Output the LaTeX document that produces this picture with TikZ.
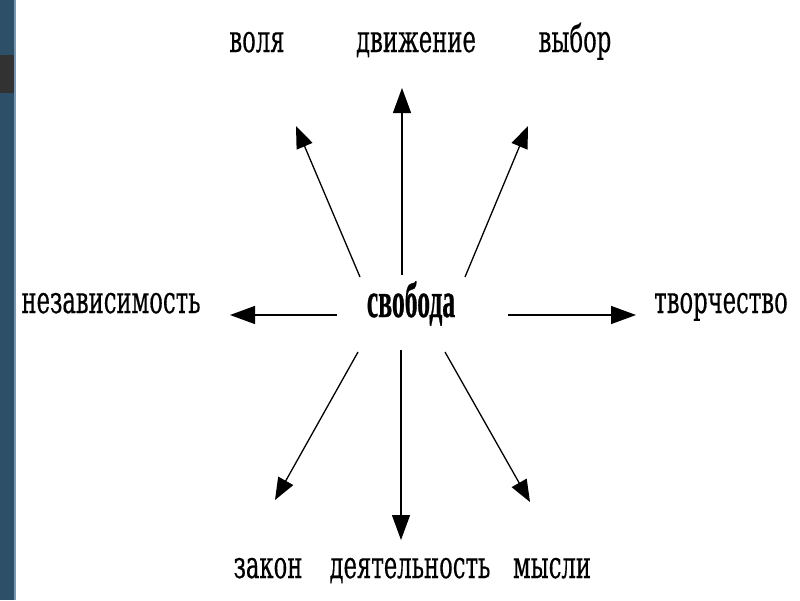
\documentclass[tikz,border=0pt]{standalone}
\usepackage{fontspec}
\usetikzlibrary{arrows.meta}
\newfontfamily\labfont[FakeBold=0.5]{DejaVu Serif}
\newfontfamily\keyfont[FakeBold=0.8]{Liberation Serif}
\definecolor{stripblue}{RGB}{45,80,104}
\definecolor{stripline}{RGB}{120,150,175}
\definecolor{stripgray}{RGB}{50,50,50}
\newcommand{\lbl}[1]{\scalebox{1.08}[1.8]{\labfont\fontsize{21}{23}\selectfont #1}}
\newcommand{\keylbl}[1]{\scalebox{0.95}[1.85]{\keyfont\bfseries\fontsize{27}{28}\selectfont #1}}
\begin{document}
\begin{tikzpicture}[x=1pt,y=-1pt,
  word/.style={inner sep=0pt,anchor=base},
  ray/.style={line width=1.3pt,-{Triangle[length=25pt,width=18pt]}},
  dray/.style={line width=1.3pt,-{Triangle[length=22pt,width=17pt]}}]
\useasboundingbox (0,0) rectangle (800,600);
\fill[white] (0,0) rectangle (800,600);
\fill[stripblue] (0,0) rectangle (14,600);
\fill[stripline] (14,0) rectangle (16,600);
\fill[stripgray] (0,55) rectangle (14,93);
% labels
\node[word] (volya) at (257,52) {\lbl{воля}};
\node[word] (dvizh) at (416,52) {\lbl{движение}};
\node[word] (vybor) at (575,52) {\lbl{выбор}};
\node[word] (nezav) at (111,313) {\lbl{независимость}};
\node[word] (svob) at (411,317) {\keylbl{свобода}};
\node[word] (tvor) at (721,313) {\lbl{творчество}};
\node[word] (zakon) at (268,578) {\lbl{закон}};
\node[word] (deyat) at (410,578) {\lbl{деятельность}};
\node[word] (mysli) at (552,578) {\lbl{мысли}};
% arrow ends
\coordinate (sU) at (402,275);  \coordinate (tU) at (402,88);
\coordinate (sUL) at (360,277); \coordinate (tUL) at (296,126);
\coordinate (sUR) at (465,277); \coordinate (tUR) at (528,126);
\coordinate (sL) at (337,315);  \coordinate (tL) at (230,315);
\coordinate (sR) at (508,315);  \coordinate (tR) at (636,315);
\coordinate (sD) at (401,350);  \coordinate (tD) at (401,540);
\coordinate (sDL) at (358,352); \coordinate (tDL) at (275,500);
\coordinate (sDR) at (445,352); \coordinate (tDR) at (530,502);
\draw[ray] (sU) -- (tU);
\draw[dray] (sUL) -- (tUL);
\draw[dray] (sUR) -- (tUR);
\draw[ray] (sL) -- (tL);
\draw[ray] (sR) -- (tR);
\draw[ray] (sD) -- (tD);
\draw[dray] (sDL) -- (tDL);
\draw[dray] (sDR) -- (tDR);
\end{tikzpicture}
\end{document}
